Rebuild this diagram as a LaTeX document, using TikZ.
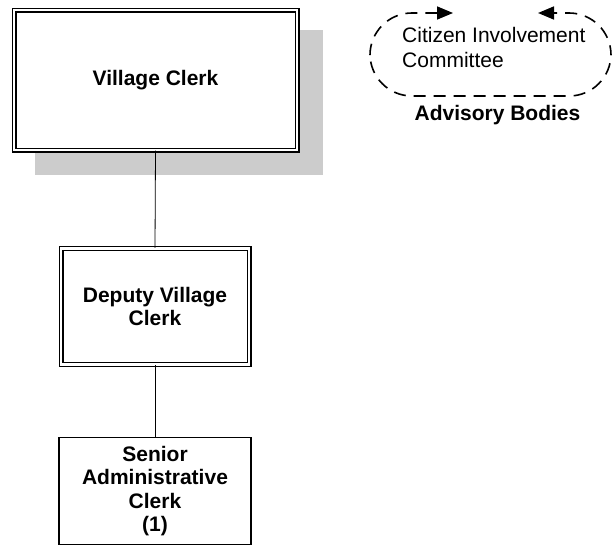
\documentclass[tikz,border=0pt]{standalone}
\usepackage{fontspec}
\setmainfont{Liberation Sans}
\usetikzlibrary{arrows.meta}
\begin{document}
\begin{tikzpicture}[x=1pt,y=-1pt,
  txt/.style={font=\fontsize{21}{25}\selectfont},
  btxt/.style={font=\fontsize{21}{23.5}\selectfont\bfseries},
  dbox/.style={draw, double, double distance=2.4pt, line width=1.3pt, fill=white,
    inner sep=0pt, align=center, btxt},
  sbox/.style={draw, line width=1.3pt, fill=white, inner sep=0pt, align=center, btxt},
  conn/.style={line width=0.8pt},
  shadowc/.style={fill=black!20, draw=none}
]
\useasboundingbox (0,0) rectangle (613,546);
\fill[shadowc] (35,30) rectangle (323,175);
\node[dbox, minimum width=283pt, minimum height=140pt] (vc) at (155.5,80) {Village Clerk};
\node[dbox, minimum width=188pt, minimum height=116pt] (dvc) at (155,306.5) {Deputy Village\\Clerk};
\node[sbox, minimum width=192pt, minimum height=107pt] (sac) at (155,491) {Senior\\Administrative\\Clerk\\(1)};
\draw[conn] (vc.south) -- (dvc.north);
\draw[conn] (dvc.south) -- (sac.north);
\coordinate (gl) at (453,13);
\coordinate (gr) at (538,13);
\draw[line width=1.6pt, dash pattern=on 12pt off 8pt, rounded corners=42pt,
  {Triangle[length=16pt,width=13pt]}-{Triangle[length=16pt,width=13pt]}]
  (gl) -- (370,13) -- (370,96) -- (611,96) -- (611,13) -- (gr);
\node[txt, anchor=north west, inner sep=0pt, align=left] (cic) at (402,27) {Citizen Involvement\\Committee};
\node[btxt, anchor=base, inner sep=0pt] (ab) at (497.5,120) {Advisory Bodies};
\end{tikzpicture}
\end{document}
